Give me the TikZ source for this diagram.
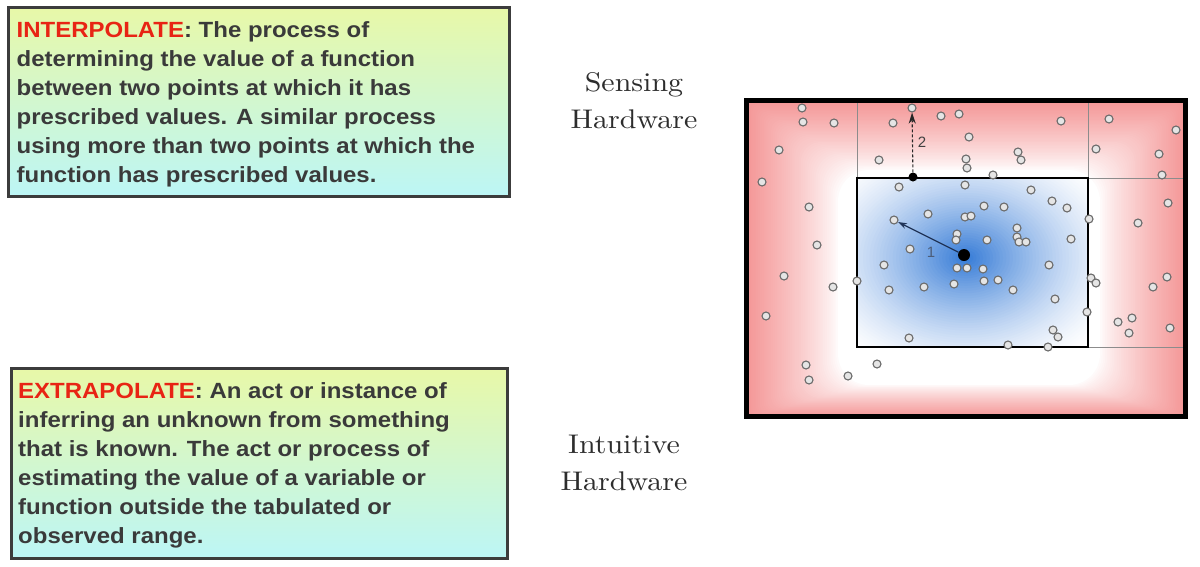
\documentclass[tikz,border=0pt]{standalone}
\usepackage{fontspec}
\usepackage{graphicx}
\usetikzlibrary{arrows.meta}
\newfontfamily\boxfont[FakeStretch=1.09]{Liberation Sans}
\newfontfamily\numfont{Liberation Sans}
\newfontfamily\labfont{lmroman10-regular.otf}
\definecolor{pinkc}{RGB}{244,150,150}
\definecolor{bluec}{RGB}{58,126,216}
\definecolor{boxtop}{RGB}{232,248,168}
\definecolor{boxbot}{RGB}{188,246,246}
\definecolor{boxedge}{RGB}{60,60,60}
\definecolor{txt}{RGB}{58,58,58}
\definecolor{hot}{RGB}{232,36,20}
\definecolor{labtxt}{RGB}{45,45,45}
\definecolor{arrblue}{RGB}{32,52,88}
\tikzset{
  defbox/.style={draw=boxedge, line width=3pt, top color=boxtop, bottom color=boxbot, inner sep=0pt, anchor=north west},
  deftext/.style={anchor=base west, inner sep=0pt, align=left, text=txt, font=\boxfont\bfseries\fontsize{22}{29}\selectfont},
  hwlabel/.style={anchor=base, inner sep=0pt, align=center, text=labtxt, font=\labfont\fontsize{27}{37}\selectfont},
  scat/.style={draw=black!58, fill=black!10, line width=1.1pt},
  scatn/.style={circle, draw=black!58, fill=black!10, line width=1.1pt, minimum size=8pt, inner sep=0pt},
  bigdot/.style={circle, fill=black, minimum size=12pt, inner sep=0pt},
  smalldot/.style={circle, fill=black, minimum size=9pt, inner sep=0pt},
  grid/.style={draw=black!45, line width=0.6pt},
}
\begin{document}
\begin{tikzpicture}[x=1pt,y=-1pt]
\useasboundingbox (0,0) rectangle (1200,566);
\fill[white] (0,0) rectangle (1200,566);

% definition boxes
\node[defbox, minimum width=501pt, minimum height=189pt] (box1) at (7,6) {};
\node[deftext] (def1) at (16.5,182) {{\color{hot}INTERPOLATE}: The process of\\
determining the value of a function\\
between two points at which it has\\
prescribed values. A similar process\\
using more than two points at which the\\
function has prescribed values.};

\node[defbox, minimum width=496pt, minimum height=190pt] (box2) at (10,367) {};
\node[deftext] (def2) at (18,543) {{\color{hot}EXTRAPOLATE}: An act or instance of\\
inferring an unknown from something\\
that is known. The act or process of\\
estimating the value of a variable or\\
function outside the tabulated or\\
observed range.};

% labels
\node[hwlabel] (sense) at (634,128) {\scalebox{1.11}[1]{Sensing}\\\scalebox{1.11}[1]{Hardware}};
\node[hwlabel] (intu) at (624,490) {\scalebox{1.11}[1]{Intuitive}\\\scalebox{1.11}[1]{Hardware}};

% outer pink gradient
\fill[pinkc] (745,100) rectangle (1187,418);
\foreach \i in {1,...,50}{
  \pgfmathsetmacro{\t}{\i/50}
  \pgfmathsetmacro{\p}{100*(1-\t)^0.8}
  \pgfmathsetmacro{\rc}{3+28*\t}
  \fill[pinkc!\p!white, rounded corners=\rc pt] ({745+\t*(838-745)},{100+\t*(170-100)}) rectangle ({1187-\t*(1187-1100)},{418-\t*(418-385)});
}
% inner blue gradient
\fill[white] (857,178) rectangle (1088,347);
\begin{scope}
\clip (857,178) rectangle (1088,347);
\foreach \i in {0,...,50}{
  \pgfmathsetmacro{\t}{\i/50}
  \pgfmathsetmacro{\p}{100*\t^1.4}
  \fill[bluec!\p!white] (966,258) ellipse [x radius={(1-\t)*165+4}, y radius={(1-\t)*124+3}];
}
\end{scope}
% grid lines
\draw[grid] (857,100) -- (857,178);
\draw[grid] (1088,100) -- (1088,178);
\draw[grid] (1088,178) -- (1187,178);
\draw[grid] (1088,347) -- (1187,347);
\draw[black, line width=1.5pt] (857,178) rectangle (1088,347);

% scattered points
\foreach \x/\y in {802/108,803/122,834/123,779/150,762/182,809/207,817/245,784/276,833/287,766/316,806/365,809/380,848/376,877/364,
893/123,941/116,959/114,969/137,879/160,966/159,967/168,1018/152,1021/160,993/175,1061/121,1109/119,1176/130,1096/149,1159/154,1162/175,
1168/203,1138/223,1089/219,1167/277,1153/287,1091/278,1096/283,1087/312,1118/322,1132/318,1129/333,1170/328,857/281,
899/187,965/185,1031/190,1052/201,1067/208,984/206,1004/207,928/214,965/217,971/216,1017/228,1017/237,1019/242,1026/242,
957/234,956/240,987/240,1071/239,910/249,884/265,957/268,967/268,983/269,1049/265,954/284,984/281,998/280,924/287,889/290,
1013/290,1055/299,1053/330,1058/337,909/338,1008/345,1048/347}
  \draw[scat] (\x,\y) circle [radius=4pt];
\node[scatn] (t1) at (894,220) {};
\node[scatn] (t2) at (912,108) {};

% arrows
\node[bigdot] (big) at (964,255) {};
\node[smalldot] (small) at (913,177) {};
\draw[arrblue, line width=1.2pt, -{Stealth[length=9pt,width=6pt]}] (big) -- (t1);
\draw[black!85, line width=1.1pt, dashed, dash pattern=on 3pt off 2pt, -{Stealth[length=11pt,width=7pt]}] (small) -- (t2);
\node[text=arrblue!80, font=\numfont\fontsize{15}{15}\selectfont, inner sep=0pt] (lab1) at (931,252) {1};
\node[text=black!75, font=\numfont\fontsize{15}{15}\selectfont, inner sep=0pt] (lab2) at (922,142) {2};

% outer frame
\draw[black, line width=5pt] (746.5,100.5) rectangle (1185.5,416.5);
\end{tikzpicture}
\end{document}
